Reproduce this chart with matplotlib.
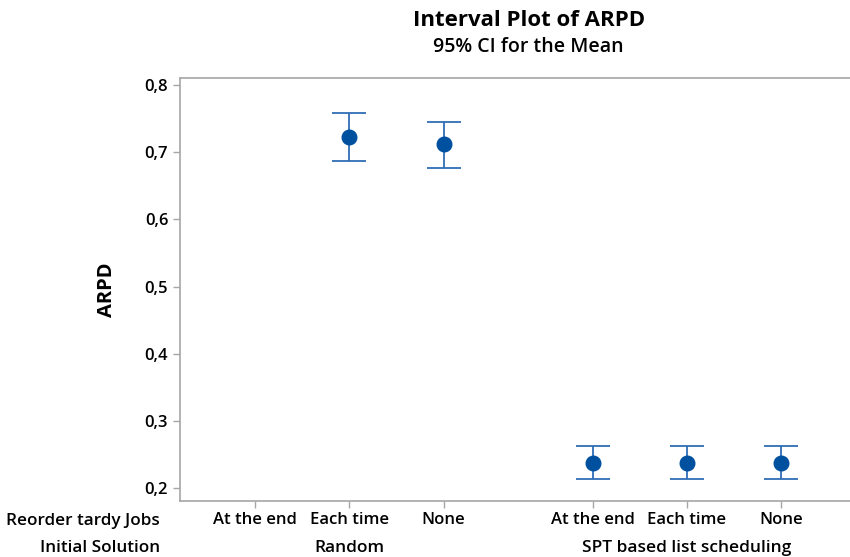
import numpy as np
import matplotlib
matplotlib.use("Agg")
import matplotlib.pyplot as plt

plt.rcParams['font.family'] = ['Open Sans', 'DejaVu Sans']

# data (At the end / Random has no interval)
solutions = ["Random", "SPT based list scheduling"]
reorder = ["At the end", "Each time", "None"]
means = [[np.nan, 0.722, 0.712],
         [0.237, 0.237, 0.237]]
lower = [[np.nan, 0.687, 0.677],
         [0.214, 0.214, 0.214]]
upper = [[np.nan, 0.758, 0.745],
         [0.263, 0.263, 0.263]]
yticks = [0.2, 0.3, 0.4, 0.5, 0.6, 0.7, 0.8]

blue = "#0050a0"
grey = "#a6a6a6"
group_step = 3.58  # minitab leaves a gap between groups

fig = plt.figure(figsize=(8.5, 5.57), dpi=100)
ax = fig.add_axes([0.2118, 0.1005, 0.7882, 0.7595])

xpos, xlab = [], []
for g, sol in enumerate(solutions):
    for k, lev in enumerate(reorder):
        x = k + g * group_step
        xpos.append(x)
        xlab.append(lev)
        m, lo, hi = means[g][k], lower[g][k], upper[g][k]
        if np.isnan(m):
            continue
        ax.errorbar(x, m, yerr=[[m - lo], [hi - m]], fmt='o', color=blue,
                    ecolor="#2f6db5", elinewidth=1.3, capsize=12, capthick=1.3,
                    markersize=10.5)

ax.set_xlim(-0.795, 6.31)
ax.set_ylim(0.1811, 0.8104)
ax.set_yticks(yticks)
ax.set_yticklabels([f"{v:.1f}".replace(".", ",") for v in yticks])
ax.set_xticks(xpos)
ax.set_xticklabels(xlab)

for s in ["left", "top", "bottom"]:
    ax.spines[s].set_color(grey)
    ax.spines[s].set_linewidth(1.2)
ax.spines["right"].set_visible(False)
ax.tick_params(axis='both', colors=grey, length=5, width=1, direction='out',
               labelcolor='black', labelsize=12)
ax.tick_params(axis='x', pad=3)
for t in ax.get_xticklabels() + ax.get_yticklabels():
    t.set_fontweight('semibold')

ax.set_ylabel("ARPD", fontsize=14.5, fontweight='bold', labelpad=20)

# group labels below the tick labels
ax.text(-0.03, -0.047, "Reorder tardy Jobs", transform=ax.transAxes, ha='right', va='center',
        fontsize=12.3, fontweight='semibold')
ax.text(-0.03, -0.11, "Initial Solution", transform=ax.transAxes, ha='right', va='center',
        fontsize=12.3, fontweight='semibold')
for g, sol in enumerate(solutions):
    xc = 1 + g * group_step
    ax.text(xc, -0.11, sol, transform=ax.get_xaxis_transform(), ha='center', va='center',
            fontsize=12.5, fontweight='semibold')

fig.text(0.622, 1 - 20 / 557, "Interval Plot of ARPD", ha='center', va='center',
         fontsize=16, fontweight='bold')
fig.text(0.622, 1 - 47 / 557, "95% CI for the Mean", ha='center', va='center',
         fontsize=14, fontweight='semibold')

fig.savefig("out.png", dpi=100)
